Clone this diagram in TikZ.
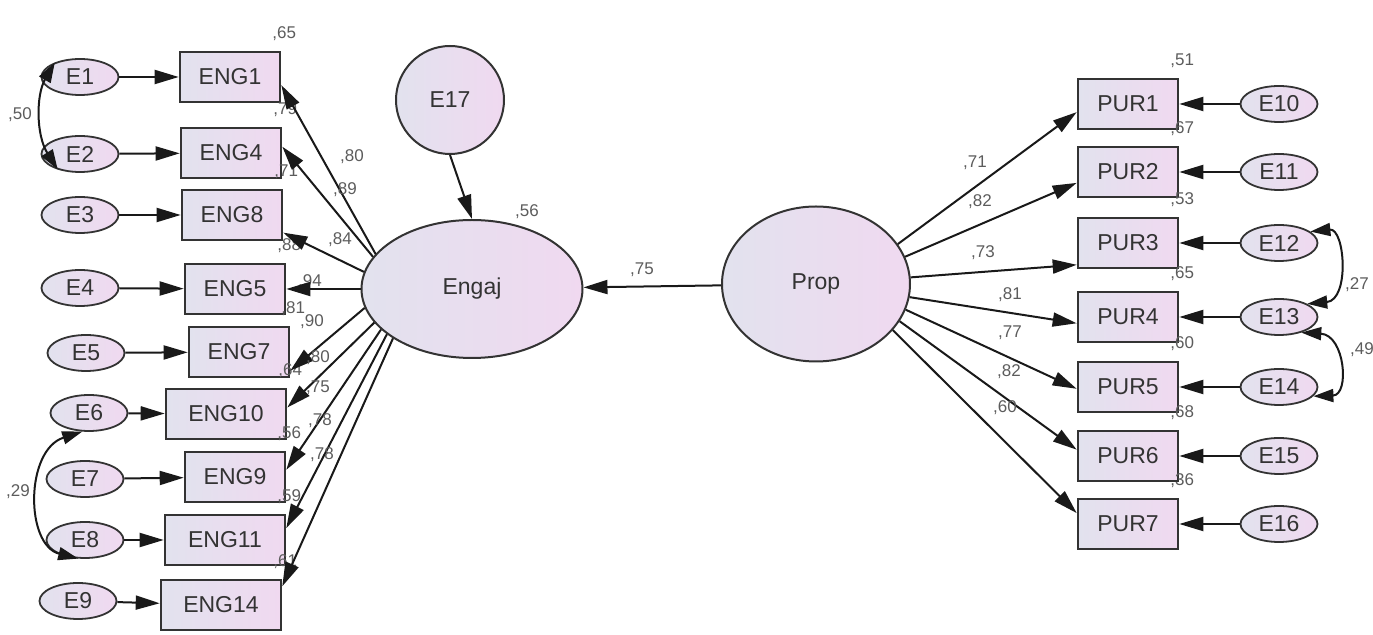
\documentclass[tikz,border=0pt]{standalone}
\usepackage{fontspec}
\setmainfont{Liberation Sans}
\usepackage{tikz}
\usetikzlibrary{arrows.meta,shapes.geometric}
\definecolor{fillL}{HTML}{E2E2EE}
\definecolor{fillR}{HTML}{F0D9F0}
\definecolor{ink}{HTML}{333333}
\tikzset{
  var/.style={draw=ink,left color=fillL,right color=fillR,text=ink,font=\fontsize{11.5}{12}\selectfont,inner sep=0pt},
  errvar/.style={var,ellipse,line width=0.9pt,minimum width=38.5pt,minimum height=18pt},
  obsvar/.style={var,rectangle,line width=1.3pt,minimum height=25pt},
  est/.style={text=ink!80,font=\fontsize{8.5}{9}\selectfont,inner sep=0pt},
  reg/.style={-{Triangle[length=12pt,width=7pt]},line width=1pt,draw=black!90},
  cov/.style={{Triangle[length=10pt,width=6.5pt]}-{Triangle[length=10pt,width=6.5pt]},line width=1pt,draw=black!90}
}

\begin{document}
\begin{tikzpicture}[x=0.5pt,y=-0.5pt]
\useasboundingbox (0,0) rectangle (1373,635);

% latent variables
\node[var,ellipse,line width=1pt,minimum width=110.5pt,minimum height=69pt] (engaj) at (472,289) {Engaj};
\node[var,ellipse,line width=1pt,minimum width=94pt,minimum height=77.5pt] (prop) at (816,284) {Prop};
\node[var,circle,line width=1pt,minimum size=54pt] (E17) at (450,100) {E17};

% Engaj indicators
\foreach \e/\ex/\ey/\b/\bx/\by/\bw/\r in {E1/80/77/ENG1/230/77/50/{,65}, E2/80/154/ENG4/231/153/50/{,79},
  E3/80/215/ENG8/232/215/50/{,71}, E4/80/288/ENG5/235/289/50/{,88}, E5/86/353/ENG7/239/352/50/{,81},
  E6/89/413/ENG10/226/414/60/{,64}, E7/85/479/ENG9/235/477/50/{,56}, E8/85/540/ENG11/225/540/60/{,59},
  E9/78/601/ENG14/221/605/60/{,61}}{
  \node[obsvar,minimum width=\bw pt] (\b) at (\bx,\by) {\b};
  \node[errvar] (\e) at (\ex,\ey) {\e};
  \node[est] (r\b) at ([xshift=1.5pt,yshift=8.5pt]\b.north east) {\r};
  \draw[reg] (\e) -- (\b);
}

% Prop indicators
\foreach \e/\b/\y/\r in {E10/PUR1/104/{,51}, E11/PUR2/172/{,67}, E12/PUR3/243/{,53}, E13/PUR4/317/{,65},
  E14/PUR5/387/{,60}, E15/PUR6/456/{,68}, E16/PUR7/524/{,36}}{
  \node[obsvar,minimum width=50pt] (\b) at (1128,\y) {\b};
  \node[errvar] (\e) at (1279,\y) {\e};
  \node[est] (r\b) at ([xshift=1.5pt,yshift=8.5pt]\b.north east) {\r};
  \draw[reg] (\e) -- (\b);
}

% loadings
\foreach \b/\s/\t/\lx/\ly/\l in {ENG1/160/351/352/157/{,80}, ENG4/162/7/345/190/{,89}, ENG8/171/341/340/240/{,84},
  ENG5/180/0/310/282/{,94}, ENG7/190/340/312/322/{,90}, ENG10/199/6/318/358/{,80}, ENG9/204/8/318/388/{,75},
  ENG11/208/11/320/421/{,78}, ENG14/212/17/322/455/{,78}}{
  \node[est] (w\b) at (\lx,\ly) {\l};
  \draw[reg] (engaj.\s) -- (\b.\t);
}
\foreach \b/\s/\t/\lx/\ly/\l in {PUR1/26/189/975/163/{,71}, PUR2/17/192/980/202/{,82}, PUR3/4/203/983/253/{,73},
  PUR4/352/187/1010/295/{,81}, PUR5/344/182/1010/333/{,77}, PUR6/336/173/1009/372/{,82}, PUR7/329/168/1005/408/{,60}}{
  \node[est] (w\b) at (\lx,\ly) {\l};
  \draw[reg] (prop.\s) -- (\b.\t);
}

% structural part
\node[est] (rengaj) at (527,212) {,56};
\node[est] (wprop) at (642,270) {,75};
\draw[reg] (prop) -- (engaj);
\draw[reg] (E17.south) -- (engaj.north);

% error covariances
\draw[cov] (E1.150) .. controls (36,95) and (36,135) .. (E2.215);
\node[est] (c12) at (20,115) {,50};
\draw[cov] (E6.250) .. controls (25,450) and (25,545) .. (E8.250);
\node[est] (c68) at (18,492) {,29};
\draw[cov] (E12.20) .. controls (1345,228) and (1350,300) .. (E13.25);
\node[est] (c1213) at (1357,285) {,27};
\draw[cov] (E13.325) .. controls (1345,335) and (1350,395) .. (E14.345);
\node[est] (c1314) at (1362,350) {,49};
\end{tikzpicture}
\end{document}
